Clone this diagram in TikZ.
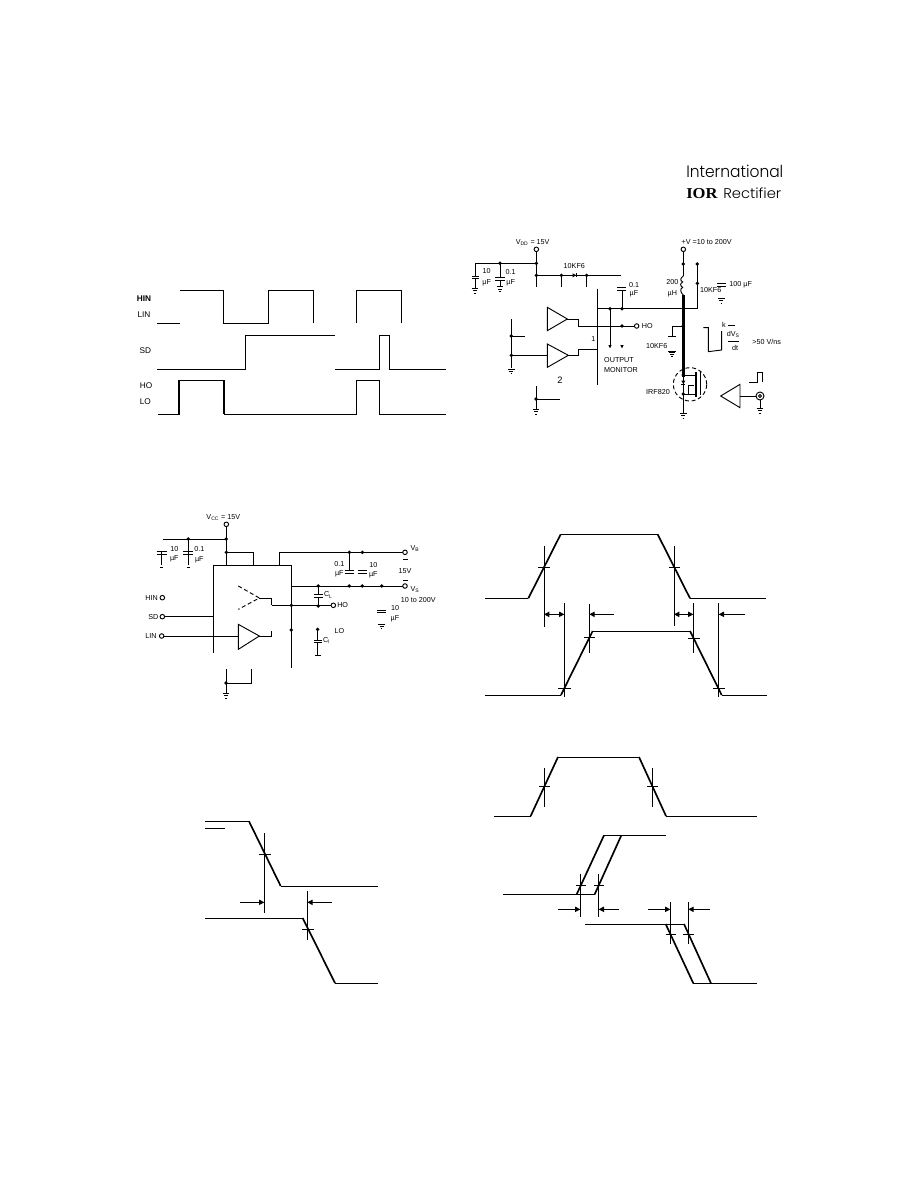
\documentclass[tikz,border=0pt]{standalone}
\usepackage{fontspec}
\usetikzlibrary{arrows.meta}
\setmainfont{Liberation Sans}
\newfontfamily\logof{Poppins Light}
\newfontfamily\logob{Liberation Serif}
\newcounter{labc}
\newcommand{\lab}[3][lbl]{\stepcounter{labc}\node[#1] (t\thelabc) at (#2) {#3};}
\newcommand{\dts}[1]{\foreach \p in {#1} \fill \p circle (1.4pt);}
\newcommand{\term}[1]{\draw[wire,fill=white] #1 circle (1.7pt);}
\tikzset{
  zoomed/.style 2 args={shift={(#1,#2)},x=0.25pt,y=-0.25pt},
  wire/.style={line width=0.7pt,line cap=butt,line join=miter},
  heavy/.style={line width=1.5pt,line join=miter},
  slope/.style={line width=1.25pt,line join=miter},
  lbl/.style={inner sep=0pt,font=\fontsize{5.4}{6}\selectfont},
  siglbl/.style={inner sep=0pt,font=\fontsize{6.2}{7}\selectfont},
  dim/.style={wire,-{Triangle[length=4pt,width=4pt]}},
  ddim/.style={wire,{Triangle[length=4pt,width=4pt]}-{Triangle[length=4pt,width=4pt]}},
  gnd/.pic={\draw[wire] (-10,0)--(10,0) (-6,7)--(6,7) (-2,14)--(2,14);}
}
\begin{document}
\begin{tikzpicture}[x=0.75pt,y=-0.75pt]
\useasboundingbox (0,0) rectangle (918,1188);
\fill[white] (0,0) rectangle (918,1188);
% logo
\node[inner sep=0pt,anchor=south west] (logo1) at (686,177.5) {\resizebox{72.75pt}{9.3pt}{\logof International}};
\node[inner sep=0pt,anchor=south west] (logo2) at (686,199) {\resizebox{23.5pt}{7.5pt}{\logob\bfseries IOR}};
\node[inner sep=0pt,anchor=south west] (logo3) at (723,199) {\resizebox{43.5pt}{8pt}{\logof Rectifier}};

% --- input/output timing
\begin{scope}[zoomed={120}{270}]
\draw[wire] (112,159)--(180,159);
\draw[wire] (180,60)--(310,60)--(310,159)--(445,159)--(445,60)--(580,60)--(580,159);
\draw[wire] (709,159)--(709,60)--(844,60)--(844,159);
\draw[wire] (112,297)--(376,297)--(376,197)--(645,197);
\draw[wire] (646,297)--(778,297)--(778,197)--(808,197)--(808,297)--(977,297);
\draw[wire] (115,433)--(177,433)--(177,331)--(313,331)--(313,433)--(709,433)--(709,331)--(778,331)--(778,433)--(977,433);
\draw[heavy] (177,433)--(177,331) (313,331)--(313,433);
\lab[siglbl]{72,85}{\textbf{HIN}}
\lab[siglbl]{72,133}{LIN}
\lab[siglbl]{76,241}{SD}
\lab[siglbl]{78,348}{HO}
\lab[siglbl]{76,396}{LO}
\end{scope}

% --- dV/dt test circuit
\begin{scope}[zoomed={460}{150}]
\draw[wire] (229,303)--(229,411) (45,340)--(229,340);
\term{(229,298)}
\draw[wire] (45,340)--(45,378) (36,378)--(56,378) (36,385)--(56,385) (45,385)--(45,415);
\pic at (45,415) {gnd};
\draw[wire] (120,340)--(120,383) (106,383)--(134,383) (106,390)--(134,390) (120,390)--(120,410);
\pic at (120,410) {gnd};
\draw[wire] (229,376)--(484,376) (304,376)--(304,411) (380,376)--(380,411);
\fill (338,370)--(338,382)--(349,376)--cycle;
\draw[wire] (350,370)--(350,382);
\draw[wire] (412,416)--(412,706) (412,476)--(712,476)--(712,342);
\draw[wire] (486,476)--(486,420) (472,411)--(498,411) (472,420)--(498,420);
\draw[wire] (450,476)--(450,585);
\fill (445,585)--(455,585)--(450,595)--cycle (481,585)--(491,585)--(486,595)--cycle;
\draw[wire] (355,528)--(525,528);
\term{(530,528)}
\draw[wire] (262,472)--(262,542)--(322,507)--cycle;
\draw[wire] (322,507)--(355,507)--(355,528);
\draw[wire] (262,582)--(262,652)--(325,616)--cycle;
\draw[wire] (325,616)--(355,616)--(355,598)--(412,598);
\draw[wire] (154,507)--(154,655) (154,558)--(195,558) (154,616)--(262,616);
\pic at (154,657) {gnd};
\draw[wire] (228,708)--(228,778) (228,747)--(300,747);
\pic at (228,778) {gnd};
% right branch
\draw[wire] (670,303)--(670,378);
\term{(670,298)}
\draw[wire] (670,378) .. controls (660,385) and (660,392) .. (668,396) .. controls (660,400) and (660,408) .. (668,412) .. controls (660,416) and (660,426) .. (670,435);
\draw[line width=2pt] (670,435)--(670,680);
\draw[wire] (670,680)--(670,790);
\pic at (670,790) {gnd};
\draw[wire] (636,560)--(636,528)--(670,528);
\draw[wire] (624,560)--(648,560) (624,603)--(648,603) (636,603)--(636,606);
\pic at (636,606) {gnd};
\draw[wire,densely dashed] (690,703) circle (12.5pt);
\draw[wire] (670,675)--(708,675) (670,732)--(708,732) (684,705)--(684,732) (684,705)--(702,705);
\draw[line width=1pt] (708,665)--(708,742);
\draw[wire] (722,665)--(722,735);
\fill (664,692)--(676,692)--(670,702)--cycle;
\draw[wire] (664,703)--(676,703);
% 100uF cap
\draw[wire] (771,399)--(797,399) (771,408)--(797,408);
\pic at (784,445) {gnd};
% pulse
\draw[wire] (730,533)--(745,533)--(745,605)--(785,600)--(785,543);
\draw[wire] (804,575)--(836,575);
\draw[wire] (805,527)--(825,527);
% pulse generator
\draw[wire] (840,703)--(840,773)--(782,738)--cycle;
\draw[wire] (840,738)--(889,738);
\draw[wire] (900,738) circle (3pt);
\draw[wire] (900,738) circle (1.1pt);
\draw[wire] (900,749)--(900,775);
\pic at (900,775) {gnd};
\draw[wire] (868,697)--(892,697)--(892,667)--(908,667)--(908,697);
\dts{(229,340),(120,340),(229,376),(304,376),(380,376),(486,476),(450,476),(486,528),(154,558),(154,616),(228,747),(670,342),(712,342),(712,400),(670,528),(670,675),(670,732)}
\lab{218,277}{V$_{\mathrm{DD}}$ = 15V}
\lab{740,275}{+V =10 to 200V}
\lab{343,347}{10KF6}
\lab{80,364}{10}\lab{80,397}{µF}
\lab{152,367}{0.1}\lab{152,397}{µF}
\lab{522,404}{0.1}\lab{522,432}{µF}
\lab{562,528}{HO}
\lab{400,567}{1}
\lab{300,690}{\fontsize{7}{8}\selectfont 2}
\lab{477,630}{OUTPUT}
\lab{483,660}{MONITOR}
\lab{637,395}{200}\lab{637,430}{µH}
\lab{752,420}{10KF6}
\lab{842,405}{100 µF}
\lab{590,587}{10KF6}
\lab{792,525}{k}
\lab{820,553}{dV$_{\mathrm{S}}$}
\lab{825,595}{dt}
\lab{920,577}{>50 V/ns}
\lab{594,727}{IRF820}
\end{scope}

% --- switching time test circuit
\begin{scope}[zoomed={130}{500}]
\draw[wire] (289,78)--(289,197) (100,117)--(289,117);
\term{(289,73)}
\draw[wire] (95,155)--(95,195) (80,155)--(110,155) (80,163)--(110,163);
\draw[wire] (175,117)--(175,195) (160,155)--(190,155) (160,163)--(190,163);
\draw[wire] (90,202)--(100,202) (170,202)--(180,202);
\draw[wire] (289,157)--(371,157)--(371,197);
\draw[wire] (250,460)--(250,197)--(484,197)--(484,505);
\draw[wire] (449,197)--(449,157)--(820,157);
\term{(825,157)}
\draw[wire] (658,157)--(658,212);
\draw[wire] (645,212)--(672,212) (645,220)--(672,220) (683,212)--(711,212) (683,220)--(711,220);
\draw[wire] (484,258)--(820,258);
\term{(825,258)}
\draw[wire] (820,178)--(834,178) (820,240)--(834,240);
\draw[wire] (740,330)--(768,330) (740,338)--(768,338);
\pic at (755,372) {gnd};
\draw[wire] (565,258)--(565,283) (553,283)--(578,283) (553,291)--(578,291) (565,291)--(565,318);
\draw[wire] (425,316)--(605,316);
\term{(610,316)}
\draw[wire,densely dashed] (325,258)--(388,294)--(325,328);
\draw[wire] (388,294)--(425,294)--(425,316);
\draw[wire] (325,373)--(325,448)--(388,408)--cycle;
\draw[wire] (388,408)--(425,408)--(425,392);
\draw[wire] (100,408)--(325,408);
\term{(95,408)}
\draw[wire] (103,350)--(250,350);
\term{(97,350)}
\term{(97,293)}
\draw[wire] (563,388)--(563,420) (553,420)--(575,420) (553,428)--(575,428) (563,428)--(563,465) (555,465)--(572,465);
\draw[wire] (288,507)--(288,578) (288,549)--(364,549)--(364,507);
\pic at (288,580) {gnd};
\dts{(175,117),(289,117),(289,157),(658,157),(697,157),(658,258),(697,258),(755,258),(565,258),(565,318),(484,316),(484,390),(563,388),(288,549)}
\lab{280,52}{V$_{\mathrm{CC}}$ = 15V}
\lab{133,147}{10}\lab{133,175}{µF}
\lab{208,147}{0.1}\lab{208,178}{µF}
\lab{855,145}{V$_{\mathrm{B}}$}
\lab{855,268}{V$_{\mathrm{S}}$}
\lab{628,192}{0.1}\lab{628,222}{µF}
\lab{730,195}{10}\lab{730,225}{µF}
\lab{825,212}{15V}
\lab{865,300}{10 to 200V}
\lab{795,325}{10}\lab{795,355}{µF}
\lab{595,285}{C$_{\mathrm{L}}$}
\lab{638,314}{HO}
\lab{628,393}{LO}
\lab{590,422}{C$_{\mathrm{l}}$}
\lab{65,293}{HIN}
\lab{70,350}{SD}
\lab{63,408}{LIN}
\end{scope}

% --- switching time waveform
\begin{scope}[zoomed={470}{520}]
\draw[wire] (45,235)--(175,235) (272,43)--(563,43) (660,235)--(887,235);
\draw[slope] (175,235)--(272,43) (563,43)--(660,235);
\draw[wire] (45,525)--(273,525) (368,333)--(660,333) (755,525)--(890,525);
\draw[slope] (273,525)--(368,333) (660,333)--(755,525);
\draw[wire] (222,78)--(222,320) (205,141)--(240,141);
\draw[wire] (283,250)--(283,530) (265,505)--(302,505);
\draw[wire] (358,252)--(358,398) (342,353)--(375,353);
\draw[wire] (612,78)--(612,318) (597,141)--(630,141);
\draw[wire] (670,250)--(670,398) (653,355)--(690,355);
\draw[wire] (746,250)--(746,530) (729,505)--(765,505);
\draw[ddim] (222,283)--(283,283);
\draw[dim] (432,283)--(358,283);
\draw[ddim] (612,283)--(670,283);
\draw[dim] (825,283)--(746,283);
\end{scope}

% --- delay matching left
\begin{scope}[zoomed={190}{810}]
\draw[wire] (45,34)--(177,34) (272,228)--(563,228) (45,55)--(104,55);
\draw[slope] (177,34)--(272,228);
\draw[wire] (45,324)--(338,324) (435,519)--(563,519);
\draw[slope] (338,324)--(435,519);
\draw[wire] (223,70)--(223,310) (207,133)--(242,133);
\draw[wire] (352,243)--(352,390) (336,357)--(372,357);
\draw[dim] (150,277)--(223,277);
\draw[dim] (425,277)--(352,277);
\end{scope}

% --- delay matching right
\begin{scope}[zoomed={480}{750}]
\draw[wire] (42,198)--(152,198) (234,21)--(477,21) (558,198)--(830,198);
\draw[slope] (152,198)--(234,21) (477,21)--(558,198);
\draw[wire] (193,55)--(193,172) (178,110)--(210,110);
\draw[wire] (517,55)--(517,170) (502,108)--(533,108);
\draw[wire] (70,433)--(344,433) (372,256)--(557,256);
\draw[slope] (290,433)--(372,256) (344,433)--(424,256);
\draw[wire] (315,522)--(612,522) (640,700)--(830,700);
\draw[slope] (557,522)--(640,700) (612,522)--(693,700);
\draw[wire] (301,373)--(301,500) (287,406)--(318,406);
\draw[wire] (356,373)--(356,500) (342,406)--(372,406);
\draw[wire] (571,456)--(571,582) (557,552)--(588,552);
\draw[wire] (625,456)--(625,582) (610,552)--(641,552);
\draw[dim] (234,478)--(301,478);
\draw[dim] (417,478)--(356,478);
\draw[dim] (504,478)--(571,478);
\draw[dim] (690,478)--(625,478);
\end{scope}
\end{tikzpicture}
\end{document}
